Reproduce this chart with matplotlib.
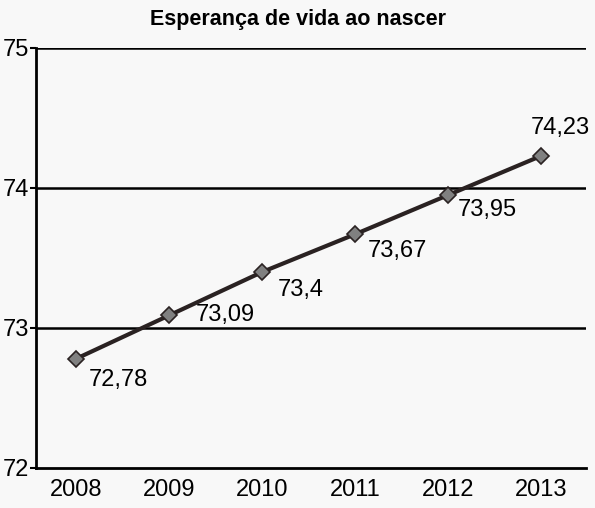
import matplotlib.pyplot as plt

plt.rcParams['font.family'] = ['Liberation Sans', 'DejaVu Sans']

# Life expectancy at birth
years = [2008, 2009, 2010, 2011, 2012, 2013]
values = [72.78, 73.09, 73.4, 73.67, 73.95, 74.23]
labels = ['72,78', '73,09', '73,4', '73,67', '73,95', '74,23']
# label offsets in points (dx, dy, ha)
offsets = [(9, -15, 'left'), (19, 0, 'left'), (11, -13, 'left'),
           (9, -12, 'left'), (7, -11, 'left'), (14, 20, 'center')]

fig = plt.figure(figsize=(5.95, 5.08), dpi=100)
fig.patch.set_facecolor('#f8f8f8')
ax = fig.add_axes([36 / 595, 40 / 508, 550 / 595, 420 / 508])
ax.set_facecolor('#f8f8f8')

ax.set_xlim(2007.57, 2013.48)
ax.set_ylim(72, 75)
ax.set_yticks([72, 73, 74, 75])
ax.set_xticks(years)

for y in [73, 74, 75]:
    ax.axhline(y, color='black', linewidth=1.8, zorder=1)

ax.plot(years, values, color='#2a2222', linewidth=3, zorder=3,
        marker='D', markersize=8, markerfacecolor='#808080',
        markeredgecolor='#2a2222', markeredgewidth=1.2)

for x, v, lab, (dx, dy, ha) in zip(years, values, labels, offsets):
    ax.annotate(lab, (x, v), xytext=(dx, dy), textcoords='offset points',
                ha=ha, va='center', fontsize=17, color='black')

for side in ['top', 'right']:
    ax.spines[side].set_visible(False)
for side in ['left', 'bottom']:
    ax.spines[side].set_linewidth(2)
    ax.spines[side].set_color('black')

ax.tick_params(axis='y', length=4, width=1.5, labelsize=17, pad=1)
ax.tick_params(axis='x', length=0, labelsize=17, pad=8)

fig.text(0.5, 0.962, 'Esperança de vida ao nascer', ha='center', va='center',
         fontsize=15.5, fontweight='bold')

fig.savefig('out.png', dpi=100, facecolor=fig.get_facecolor())
